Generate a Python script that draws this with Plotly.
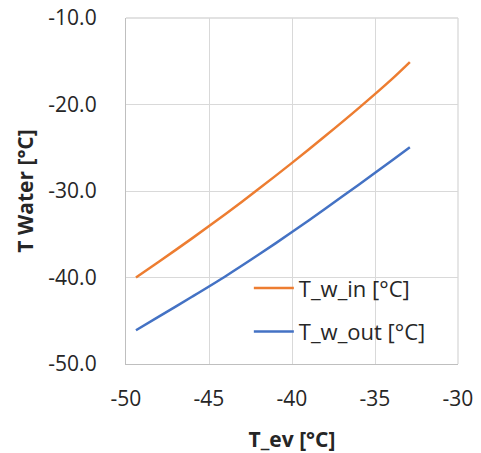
import plotly.graph_objects as go

t_ev = [-49.4, -48, -46, -44, -42, -40, -38, -36, -34, -32.9]
t_w_in = [-40.0, -38.15, -35.45, -32.65, -29.75, -26.75, -23.65, -20.45, -17.1, -15.1]
t_w_out = [-46.1, -44.5, -42.2, -39.85, -37.35, -34.75, -32.05, -29.3, -26.5, -24.95]

x_ticks = [-50, -45, -40, -35, -30]
y_ticks = [-50, -40, -30, -20, -10]

font_fam = "Open Sans, Liberation Sans, sans-serif"
txt = "#262626"
grid = "#d9d9d9"

fig = go.Figure()
fig.add_trace(go.Scatter(x=t_ev, y=t_w_in, mode="lines", name="T_w_in [°C]",
                         line=dict(color="#ED7D31", width=2.5, shape="spline", smoothing=0.8),
                         legendgroup="a"))
fig.add_trace(go.Scatter(x=t_ev, y=t_w_out, mode="lines", name="T_w_out [°C]",
                         line=dict(color="#4472C4", width=2.5, shape="spline", smoothing=0.8),
                         legendgroup="b"))

# top and right frame lines (same look as gridlines)
fig.add_shape(type="line", xref="paper", yref="paper", x0=0, x1=1, y0=1, y1=1,
              line=dict(color=grid, width=1.3), layer="below")
fig.add_shape(type="line", xref="paper", yref="paper", x0=1, x1=1, y0=0, y1=1,
              line=dict(color=grid, width=1.3), layer="below")

fig.update_layout(
    width=481, height=453,
    margin=dict(l=126, r=23, t=18, b=89),
    paper_bgcolor="white", plot_bgcolor="white",
    font=dict(family=font_fam, size=21, color=txt),
    legend=dict(x=0.37, y=0.28, xanchor="left", yanchor="top",
                bgcolor="rgba(0,0,0,0)", font=dict(size=22, color=txt),
                tracegroupgap=12, traceorder="grouped", itemwidth=40),
    xaxis=dict(range=[-50, -30], tickvals=x_ticks, ticktext=[str(v) for v in x_ticks],
               showgrid=True, gridcolor=grid, gridwidth=1.3,
               showline=True, linecolor="#bfbfbf", linewidth=1.3, mirror=False,
               zeroline=False, ticks="", ticklabelstandoff=16, automargin=False,
               ticklabeloverflow="allow",
               title=dict(text="<b>T_ev [°C]</b>", font=dict(size=21, color=txt), standoff=27)),
    yaxis=dict(range=[-50, -10], tickvals=y_ticks, ticktext=[f"{v:.1f}" for v in y_ticks],
               showgrid=True, gridcolor=grid, gridwidth=1.3,
               showline=True, linecolor="#bfbfbf", linewidth=1.3,
               zeroline=False, ticks="", ticklabelstandoff=24, automargin=False,
               ticklabeloverflow="allow",
               title=dict(text="<b>T Water [°C]</b>", font=dict(size=21, color=txt), standoff=9)),
)

fig.write_html("out.html", config={"displayModeBar": False},
               post_script="document.body.style.margin='0';document.body.style.padding='0';")
